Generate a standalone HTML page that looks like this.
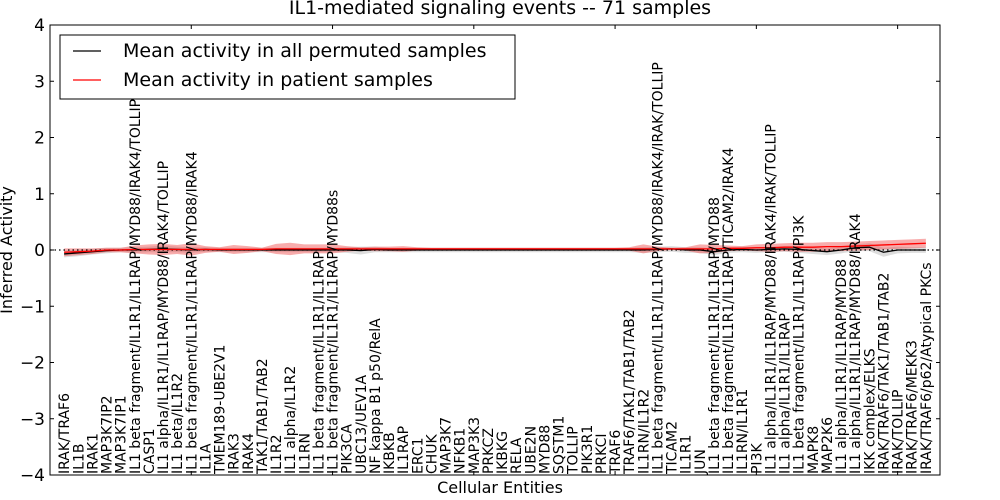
<!DOCTYPE html>
<html><head><meta charset="utf-8"><style>
body{margin:0;background:#fff}
svg{display:block;font-family:"DejaVu Sans","Liberation Sans",sans-serif}
</style></head><body>
<svg id="c" width="1000" height="500"></svg>
<script>
const categories=["IRAK/TRAF6","IL1B","IRAK1","MAP3K7IP2","MAP3K7IP1","IL1 beta fragment/IL1R1/IL1RAP/MYD88/IRAK4/TOLLIP","CASP1","IL1 alpha/IL1R1/IL1RAP/MYD88/IRAK4/TOLLIP","IL1 beta/IL1R2","IL1 beta fragment/IL1R1/IL1RAP/MYD88/IRAK4","IL1A","TMEM189-UBE2V1","IRAK3","IRAK4","TAK1/TAB1/TAB2","IL1R2","IL1 alpha/IL1R2","IL1RN","IL1 beta fragment/IL1R1/IL1RAP","IL1 beta fragment/IL1R1/IL1RAP/MYD88s","PIK3CA","UBC13/UEV1A","NF kappa B1 p50/RelA","IKBKB","IL1RAP","ERC1","CHUK","MAP3K7","NFKB1","MAP3K3","PRKCZ","IKBKG","RELA","UBE2N","MYD88","SQSTM1","TOLLIP","PIK3R1","PRKCI","TRAF6","TRAF6/TAK1/TAB1/TAB2","IL1RN/IL1R2","IL1 beta fragment/IL1R1/IL1RAP/MYD88/IRAK4/IRAK/TOLLIP","TICAM2","IL1R1","JUN","IL1 beta fragment/IL1R1/IL1RAP/MYD88","IL1 beta fragment/IL1R1/IL1RAP/TICAM2/IRAK4","IL1RN/IL1R1","PI3K","IL1 alpha/IL1R1/IL1RAP/MYD88/IRAK4/IRAK/TOLLIP","IL1 alpha/IL1R1/IL1RAP","IL1 beta fragment/IL1R1/IL1RAP/PI3K","MAPK8","MAP2K6","IL1 alpha/IL1R1/IL1RAP/MYD88","IL1 alpha/IL1R1/IL1RAP/MYD88/IRAK4","IKK complex/ELKS","IRAK/TRAF6/TAK1/TAB1/TAB2","IRAK/TOLLIP","IRAK/TRAF6/MEKK3","IRAK/TRAF6/p62/Atypical PKCs"];
const patientMean=[-0.04,-0.03,-0.02,0,0,0.01,0.01,0.01,0.01,0.01,0.01,0.01,0.01,0.01,0.01,0.02,0.02,0.02,0.02,0.02,0.02,0.02,0.02,0.02,0.02,0.02,0.02,0.02,0.02,0.02,0.02,0.02,0.02,0.02,0.02,0.02,0.02,0.02,0.02,0.02,0.02,0.02,0.02,0.02,0.02,0.02,0.02,0.03,0.03,0.04,0.04,0.05,0.05,0.05,0.06,0.06,0.07,0.08,0.09,0.1,0.11,0.12];
const patientBand=[0.07,0.06,0.05,0.04,0.04,0.07,0.09,0.1,0.08,0.11,0.06,0.04,0.08,0.06,0.03,0.09,0.11,0.08,0.08,0.08,0.05,0.03,0.04,0.04,0.05,0.03,0.02,0.02,0.02,0.02,0.02,0.02,0.02,0.02,0.02,0.02,0.02,0.02,0.02,0.02,0.03,0.08,0.04,0.02,0.03,0.08,0.07,0.05,0.04,0.06,0.07,0.07,0.08,0.08,0.08,0.08,0.08,0.08,0.08,0.08,0.08,0.08];
const permMean=[-0.07,-0.05,-0.03,-0.01,0,0,0.01,0.02,0.01,0,0.01,0,0,0,0,0,0,0,0,0,0,-0.01,0.01,0,0,0,0,0,0,0,0,0,0,0,0,0,0,0,0,0,0,0,0.01,0.02,0,0,-0.03,0,0.01,0,0.01,0.02,0.01,-0.01,-0.03,0,0.04,0.05,-0.04,0,0,0];
const permBand=[0.06,0.06,0.05,0.05,0.04,0.05,0.05,0.06,0.05,0.05,0.04,0.04,0.04,0.04,0.04,0.04,0.04,0.04,0.04,0.04,0.05,0.07,0.05,0.04,0.04,0.04,0.04,0.04,0.04,0.04,0.04,0.04,0.04,0.04,0.04,0.04,0.04,0.04,0.04,0.04,0.04,0.05,0.05,0.05,0.05,0.05,0.06,0.05,0.05,0.05,0.05,0.05,0.06,0.06,0.06,0.06,0.06,0.07,0.08,0.06,0.05,0.05];
const yTicks=[-4,-3,-2,-1,0,1,2,3,4];
const xTicks=[0,10,20,30,40,50,60];

const svg=document.getElementById('c');
const NS='http://www.w3.org/2000/svg';
const L=50,R=940,T=25,B=475;
const xs=i=>L+(i+1)*(R-L)/63;
const xt=v=>L+v*(R-L)/63;
const ys=v=>T+(4-v)*(B-T)/8;
function mk(tag,attrs,parent){const e=document.createElementNS(NS,tag);for(const k in attrs)e.setAttribute(k,attrs[k]);(parent||svg).appendChild(e);return e;}

function band(mean,bw,fill,name){
  let up=mean.map((m,i)=>xs(i)+','+ys(m+bw[i]));
  let dn=mean.map((m,i)=>xs(i)+','+ys(m-bw[i])).reverse();
  const p=mk('polygon',{points:up.concat(dn).join(' '),fill:fill});
  
  
}
band(permMean,permBand,'rgba(170,170,170,0.4)','permuted-band');
band(patientMean,patientBand,'rgba(240,70,70,0.45)','patient-band');

const zl=mk('line',{x1:L,x2:R,y1:ys(0),y2:ys(0),stroke:'#000','stroke-dasharray':'1.5,3','stroke-width':1.2});



const pl=mk('polyline',{points:permMean.map((m,i)=>xs(i)+','+ys(m)).join(' '),fill:'none',stroke:'#000','stroke-width':1.3});


const rl=mk('polyline',{points:patientMean.map((m,i)=>xs(i)+','+ys(m)).join(' '),fill:'none',stroke:'#f00','stroke-width':1.3});



categories.forEach((c,i)=>{
  const x=xs(i)+5;
  const t=mk('text',{x:x,y:474,transform:`rotate(-90 ${x} 474)`,'font-size':'14',fill:'#000'});
  t.textContent=c;
  
  
});

mk('rect',{x:L,y:T,width:R-L,height:B-T,fill:'none',stroke:'#000','stroke-width':1});
yTicks.forEach(v=>{
  const y=ys(v);
  mk('line',{x1:L,x2:L+4,y1:y,y2:y,stroke:'#000'});
  mk('line',{x1:R,x2:R-4,y1:y,y2:y,stroke:'#000'});
  const t=mk('text',{x:L-5,y:y+6,'text-anchor':'end','font-size':'17',fill:'#000'});
  t.textContent=(v<0?'\u2212':'')+Math.abs(v);
  
  
});
xTicks.forEach(v=>{
  const x=xt(v);
  mk('line',{x1:x,x2:x,y1:T,y2:T+4,stroke:'#000'});
  mk('line',{x1:x,x2:x,y1:B,y2:B-4,stroke:'#000'});
});
</script>
<svg style="position:absolute;left:0;top:0" width="1000" height="500">
<text x="500" y="14" text-anchor="middle" font-size="19" font-family="DejaVu Sans,Liberation Sans,sans-serif">IL1-mediated signaling events -- 71 samples</text>
<text x="500" y="493" text-anchor="middle" font-size="16" font-family="DejaVu Sans,Liberation Sans,sans-serif">Cellular Entities</text>
<text x="12" y="250" text-anchor="middle" font-size="16" transform="rotate(-90 12 250)" font-family="DejaVu Sans,Liberation Sans,sans-serif">Inferred Activity</text>
<g font-family="DejaVu Sans,Liberation Sans,sans-serif">
<rect x="60" y="35" width="455" height="64" fill="#fff" stroke="#000" stroke-width="1"/>
<line x1="73" x2="101" y1="51" y2="51" stroke="#000" stroke-width="1.3"/>
<text x="123" y="57" font-size="19">Mean activity in all permuted samples</text>
<line x1="73" x2="101" y1="80" y2="80" stroke="#f00" stroke-width="1.3"/>
<text x="123" y="86" font-size="19">Mean activity in patient samples</text>
</g>
</svg>
</body></html>
